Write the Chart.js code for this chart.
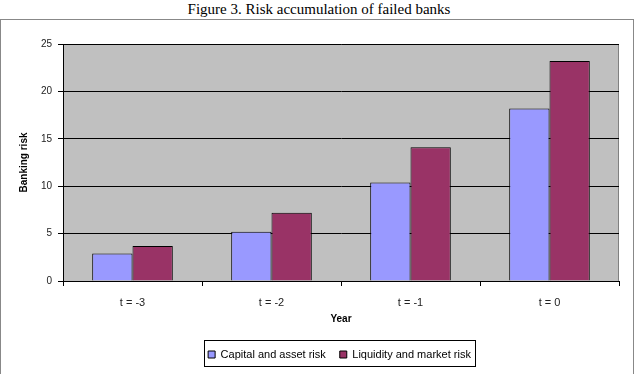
<!DOCTYPE html>
<html>
<head>
<meta charset="utf-8">
<script src="https://cdn.jsdelivr.net/npm/chart.js@4.4.0/dist/chart.umd.min.js"></script>
<style>
    html, body { margin: 0; padding: 0; background: #fff; }
    body { width: 638px; height: 374px; position: relative; overflow: hidden; }
    #title {
        position: absolute; left: 0; top: 1px; width: 638px; text-align: center;
        font-family: "Liberation Serif", "Times New Roman", serif; font-size: 15px; color: #000;
    }
    #frame {
        position: absolute; left: 0; top: 19px; width: 634px; height: 360px;
        border: 1px solid #888; box-sizing: border-box;
    }
    #wrap { position: absolute; left: 0; top: 19px; width: 638px; height: 355px; }
</style>
</head>
<body>
<div id="title">Figure 3. Risk accumulation of failed banks</div>
<div id="frame"></div>
<div id="wrap"><canvas id="chart"></canvas></div>
<script>
const years = ['t = -3', 't = -2', 't = -1', 't = 0'];
const capitalRisk = [2.9, 5.2, 10.4, 18.2];
const liquidityRisk = [3.7, 7.2, 14.1, 23.2];

const LEGEND_SHIFT = 21;

// grey plot background, legend nudged right + framed
const excelLook = {
    id: 'excelLook',
    afterLayout(chart) {
        const lg = chart.legend;
        if (!lg) return;
        lg.left += LEGEND_SHIFT;
        lg.right += LEGEND_SHIFT;
    },
    beforeDraw(chart) {
        const { ctx, chartArea: a } = chart;
        ctx.save();
        ctx.fillStyle = '#c0c0c0';
        ctx.fillRect(a.left, a.top, a.width, a.height);
        ctx.strokeStyle = '#808080';
        ctx.lineWidth = 1;
        ctx.strokeRect(a.left + 0.5, a.top + 0.5, a.width - 1, a.height);
        ctx.restore();
    },
    afterDraw(chart) {
        const lg = chart.legend;
        if (!lg || !lg.lineWidths) return;
        const pad = lg.options.labels.padding;
        const w = lg.lineWidths[0];
        const start = (lg.left + pad + lg.right - w) / 2;
        const cy = (lg.top + lg.bottom) / 2;
        const ctx = chart.ctx;
        ctx.save();
        ctx.strokeStyle = '#000';
        ctx.lineWidth = 1;
        ctx.strokeRect(Math.round(start - 4) + 0.5, Math.round(cy - 13) + 0.5, Math.round(w - pad + 8), 26);
        ctx.restore();
    }
};

new Chart(document.getElementById('chart'), {
    type: 'bar',
    data: {
        labels: years,
        datasets: [
            {
                label: 'Capital and asset risk',
                data: capitalRisk,
                backgroundColor: '#9999ff',
                borderColor: '#000',
                borderWidth: 1
            },
            {
                label: 'Liquidity and market risk',
                data: liquidityRisk,
                backgroundColor: '#993366',
                borderColor: '#000',
                borderWidth: 1
            }
        ]
    },
    options: {
        responsive: true,
        maintainAspectRatio: false,
        animation: false,
        layout: { padding: { left: 18, right: 19, top: 25, bottom: 4 } },
        datasets: { bar: { categoryPercentage: 0.58, barPercentage: 1 } },
        scales: {
            x: {
                grid: { offset: true, drawOnChartArea: false, drawTicks: true, tickLength: 5, color: '#000' },
                border: { color: '#000' },
                ticks: { color: '#222', padding: 10, font: { family: 'Arial, "Liberation Sans"', size: 11 } },
                title: { display: true, text: 'Year', color: '#000', padding: { top: 4, bottom: 10 },
                    font: { family: 'Arial, "Liberation Sans"', size: 10, weight: 'bold' } },
                afterFit(scale) { scale.height = 54; }
            },
            y: {
                min: 0, max: 25,
                ticks: { stepSize: 5, color: '#222', padding: 6, font: { family: 'Arial, "Liberation Sans"', size: 10 } },
                grid: { color: '#000', tickLength: 5, drawTicks: true },
                border: { color: '#000' },
                title: { display: true, text: 'Banking risk', color: '#000', padding: { top: 0, bottom: 4 },
                    font: { family: 'Arial, "Liberation Sans"', size: 10, weight: 'bold' } },
                afterFit(scale) { scale.width = 45; }
            }
        },
        plugins: {
            legend: {
                position: 'bottom',
                labels: {
                    boxWidth: 7, boxHeight: 7, padding: 14, color: '#000',
                    font: { family: 'Arial, "Liberation Sans"', size: 11 }
                }
            },
            tooltip: { enabled: false }
        }
    },
    plugins: [excelLook]
});
</script>
</body>
</html>
